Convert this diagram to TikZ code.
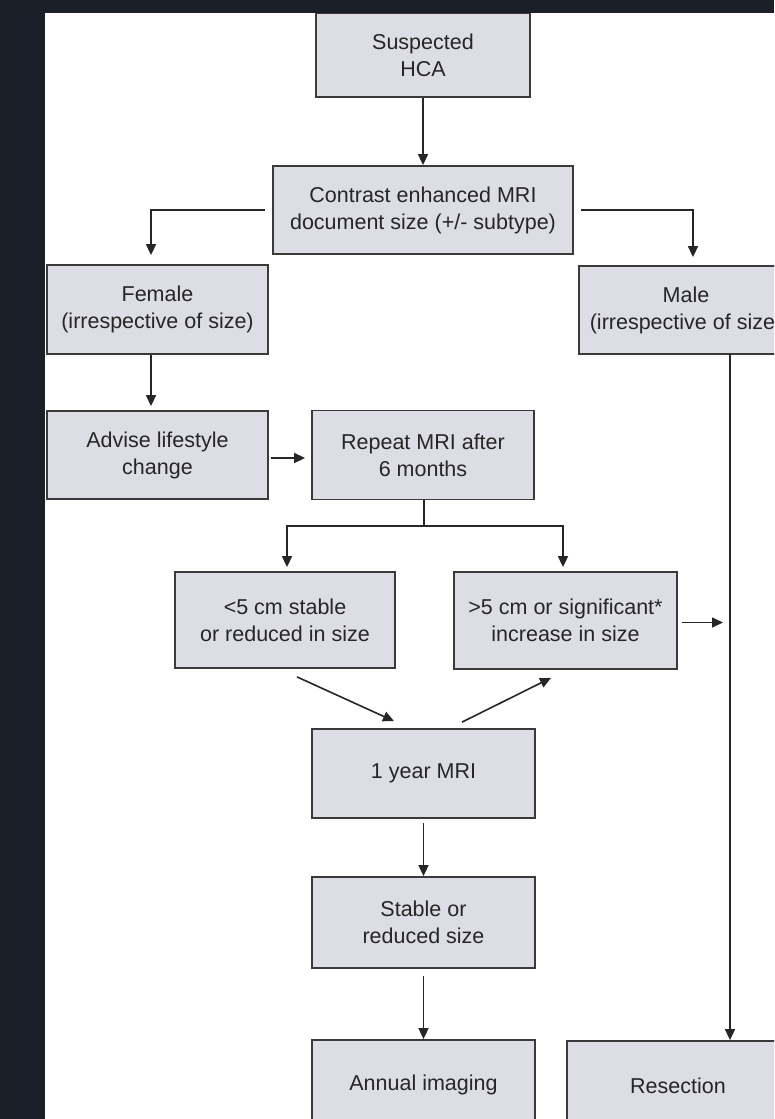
\documentclass[tikz,border=0pt]{standalone}
\usepackage{fontspec}
\setmainfont{Liberation Sans}
\usetikzlibrary{arrows.meta}
\definecolor{bgdark}{HTML}{1B1F28}
\definecolor{boxfill}{HTML}{DCDDE5}
\definecolor{boxline}{HTML}{3A3A3A}
\definecolor{txt}{HTML}{262626}
\tikzset{
  flowbox/.style={draw=boxline, line width=1.8pt, fill=boxfill, text=txt,
    rectangle, inner sep=0pt, align=center,
    font=\fontsize{21.5pt}{27pt}\selectfont},
  arr/.style={draw=black!85, line width=1.6pt, -{Triangle[length=11pt,width=10pt]}},
  plain/.style={draw=black!85, line width=1.6pt},
}
\begin{document}
\begin{tikzpicture}[x=1pt,y=-1pt]
\useasboundingbox (0,0) rectangle (774,1119);
\fill[bgdark] (0,0) rectangle (774,1119);
\fill[white] (45,13) rectangle (774,1119);
\clip (45,13) rectangle (774,1119);

\node[flowbox, minimum width=214pt, minimum height=84pt] (hca) at (423,55) {Suspected\\HCA};
\node[flowbox, minimum width=300pt, minimum height=88pt] (mri) at (423,210) {Contrast enhanced MRI\\document size (+/- subtype)};
\node[flowbox, minimum width=221pt, minimum height=89pt] (female) at (157.5,309.5) {Female\\(irrespective of size)};
\node[flowbox, minimum width=214pt, minimum height=88pt] (male) at (686,310) {Male\\(irrespective of size)};
\node[flowbox, minimum width=221pt, minimum height=88pt] (advise) at (157.5,455) {Advise lifestyle\\change};
\node[flowbox, minimum width=222pt, minimum height=89pt] (repeat) at (423,455) {Repeat MRI after\\6 months};
\node[flowbox, minimum width=220pt, minimum height=96pt] (small) at (285,620) {<5 cm stable\\or reduced in size};
\node[flowbox, minimum width=223pt, minimum height=97pt] (big) at (565.5,620.5) {>5 cm or significant*\\increase in size};
\node[flowbox, minimum width=223pt, minimum height=89pt] (year) at (423.5,773.5) {1 year MRI};
\node[flowbox, minimum width=223pt, minimum height=91pt] (stable) at (423.5,922.5) {Stable or\\reduced size};
\node[flowbox, minimum width=223pt, minimum height=90pt] (annual) at (423.5,1085) {Annual imaging};
\node[flowbox, minimum width=222pt, minimum height=90pt] (resect) at (678,1086) {Resection};

\coordinate (mx) at (730,354);
\coordinate (split) at (424,526);

\draw[arr] (hca.south) -- (mri.north);
\draw[arr, shorten >=9pt] ([xshift=-7pt]mri.west) -| ([xshift=-6.5pt]female.north);
\draw[arr, shorten >=8pt] ([xshift=7pt]mri.east) -| ([xshift=7pt]male.north);
\draw[arr, shorten >=4pt] ([xshift=-6.5pt]female.south) -- ([xshift=-6.5pt]advise.north);
\draw[arr, shorten <=2pt, shorten >=6pt] ([yshift=-3pt]advise.east) -- ([yshift=-3pt]repeat.west);
\draw[plain] (repeat.south -| split) -- (split);
\draw[arr, shorten >=4pt] (split) -| ([xshift=2pt]small.north);
\draw[arr, shorten >=4pt] (split) -| ([xshift=-2.5pt]big.north);
\draw[arr, shorten <=4pt, shorten >=7pt] ([yshift=-2pt]big.east) -- ([yshift=-2pt]big.east -| mx);
\draw[plain] (mx) -- (mx |- male.south);
\draw[arr] (mx) -- (mx |- resect.north);
\draw[arr] ([xshift=12pt,yshift=-8pt]small.south) -- ([xshift=-29.5pt,yshift=7pt]year.north);
\draw[arr] ([xshift=38.5pt,yshift=6pt]year.north) -- ([xshift=-14.5pt,yshift=-8pt]big.south);
\draw[arr, shorten <=4pt] (year.south) -- (stable.north);
\draw[arr, shorten <=7pt] (stable.south) -- (annual.north);
\end{tikzpicture}
\end{document}
